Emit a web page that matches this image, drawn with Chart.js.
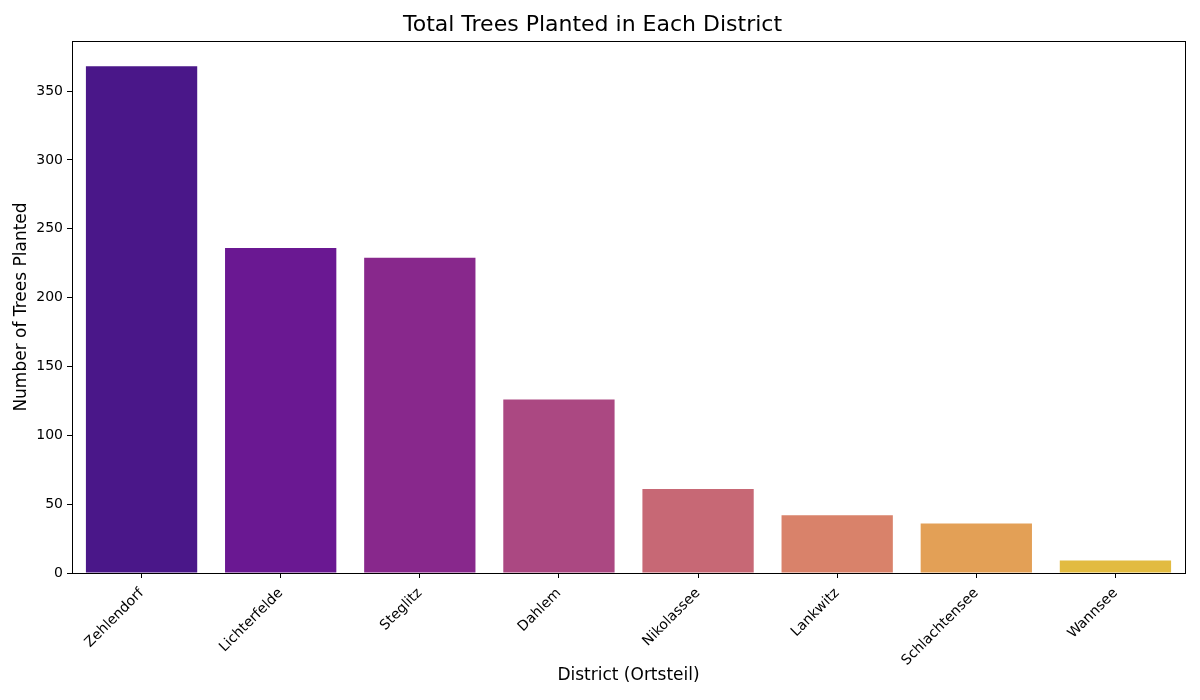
<!DOCTYPE html>
<html>
<head>
<meta charset="utf-8">
<script src="https://cdn.jsdelivr.net/npm/chart.js@4/dist/chart.umd.min.js"></script>
<style>
  html, body { margin: 0; padding: 0; background: #fff; }
  #grafico { display: block; }
</style>
</head>
<body>
<canvas id="grafico" width="1200" height="700"></canvas>
<script>
// dados
var distritos = ['Zehlendorf', 'Lichterfelde', 'Steglitz', 'Dahlem', 'Nikolassee', 'Lankwitz', 'Schlachtensee', 'Wannsee'];
var arvoresPlantadas = [368, 236, 229, 126, 61, 42, 36, 9];
var ticksY = [0, 50, 100, 150, 200, 250, 300, 350];

// paleta (plasma)
var cores = ['#4a1789', '#6a1892', '#88288c', '#ab4882', '#c76875', '#d9826a', '#e3a056', '#e2bb41'];

Chart.defaults.font.family = '"DejaVu Sans", sans-serif';
Chart.defaults.color = '#000';

// moldura do grafico (eixo de cima e da direita)
const moldura = {
    id: 'moldura',
    afterDraw(chart) {
        const { ctx, chartArea } = chart;
        ctx.save();
        ctx.strokeStyle = '#000';
        ctx.lineWidth = 1;
        ctx.strokeRect(chartArea.left + 0.5, chartArea.top + 0.5, chartArea.right - chartArea.left, chartArea.bottom - chartArea.top);
        ctx.restore();
    }
};

const ctx = document.getElementById('grafico');

new Chart(ctx, {
    type: 'bar',
    data: {
        labels: distritos,
        datasets: [{
            data: arvoresPlantadas,
            backgroundColor: cores,
            borderWidth: 0,
            barPercentage: 0.8,
            categoryPercentage: 1.0
        }]
    },
    options: {
        responsive: false,
        animation: false,
        layout: { padding: { left: 0, right: 15, top: 0, bottom: 0 } },
        plugins: {
            legend: { display: false },
            tooltip: { enabled: false },
            title: {
                display: true,
                text: 'Total Trees Planted in Each District',
                font: { size: 22, weight: 'normal', lineHeight: '26px' },
                color: '#000',
                padding: { top: 12, bottom: 3 }
            }
        },
        scales: {
            x: {
                offset: true,
                grid: { offset: false, drawOnChartArea: false, drawTicks: true, tickLength: 5, color: '#000' },
                border: { display: true, color: '#000' },
                ticks: { maxRotation: 45, minRotation: 45, font: { size: 14 }, padding: 7 },
                title: {
                    display: true,
                    text: 'District (Ortsteil)',
                    font: { size: 17 },
                    padding: { top: 0, bottom: 14 }
                },
                afterFit: function (scale) { scale.height = 127; }
            },
            y: {
                min: 0,
                max: Math.max.apply(null, arvoresPlantadas) * 1.05,
                afterBuildTicks: function (scale) {
                    scale.ticks = ticksY.map(function (v) { return { value: v }; });
                },
                grid: { drawOnChartArea: false, drawTicks: true, tickLength: 5, color: '#000' },
                border: { display: true, color: '#000' },
                ticks: { font: { size: 14 }, padding: 4 },
                title: {
                    display: true,
                    text: 'Number of Trees Planted',
                    font: { size: 17 },
                    padding: { top: 11, bottom: 0 }
                },
                afterFit: function (scale) { scale.width = 72; }
            }
        }
    },
    plugins: [moldura]
});
</script>
</body>
</html>
